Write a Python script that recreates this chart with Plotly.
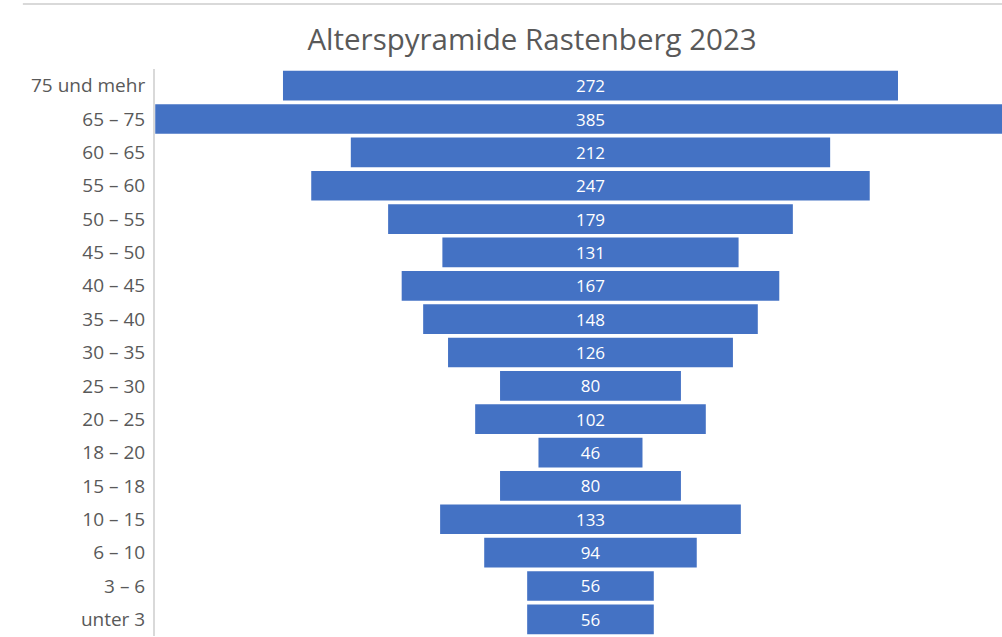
import plotly.graph_objects as go

categories = ["75 und mehr", "65 – 75", "60 – 65", "55 – 60", "50 – 55", "45 – 50",
              "40 – 45", "35 – 40", "30 – 35", "25 – 30", "20 – 25", "18 – 20",
              "15 – 18", "10 – 15", "6 – 10", "3 – 6", "unter 3"]
values = [272, 385, 212, 247, 179, 131, 167, 148, 126, 80, 102, 46, 80, 133, 94, 56, 56]

fig = go.Figure(go.Funnel(
    y=categories,
    x=values,
    orientation="h",
    marker=dict(color="#4472C4", line=dict(width=0)),
    connector=dict(visible=False),
    textinfo="value",
    textposition="inside",
    insidetextanchor="middle",
    textfont=dict(family="Open Sans", size=17, color="white"),
    constraintext="none",
    hoverinfo="y+x",
))

fig.update_layout(
    width=1002, height=637,
    margin=dict(l=155, r=0, t=69, b=1, autoexpand=False),
    paper_bgcolor="white", plot_bgcolor="white",
    title=dict(text="Alterspyramide Rastenberg 2023", x=0.531, xref="container",
               xanchor="center", y=0.937, yref="container", yanchor="middle",
               font=dict(family="Open Sans", size=29.5, color="#595959")),
    funnelgap=0.11,
    showlegend=False,
    xaxis=dict(range=[-192.6, 182], visible=False, fixedrange=True),
    yaxis=dict(showline=True, linecolor="#d9d9d9", linewidth=2,
               tickfont=dict(family="Open Sans", size=19, color="#595959"),
               ticks="", ticklabelstandoff=4, showgrid=False),
    shapes=[dict(type="line", xref="paper", yref="paper", x0=-0.156, x1=1,
                 y0=1.1146, y1=1.1146, line=dict(color="#d9d9d9", width=2))],
)

fig.write_html("out.html", config={"displayModeBar": False},
               post_script="document.body.style.margin='0';document.body.style.overflow='hidden';")
